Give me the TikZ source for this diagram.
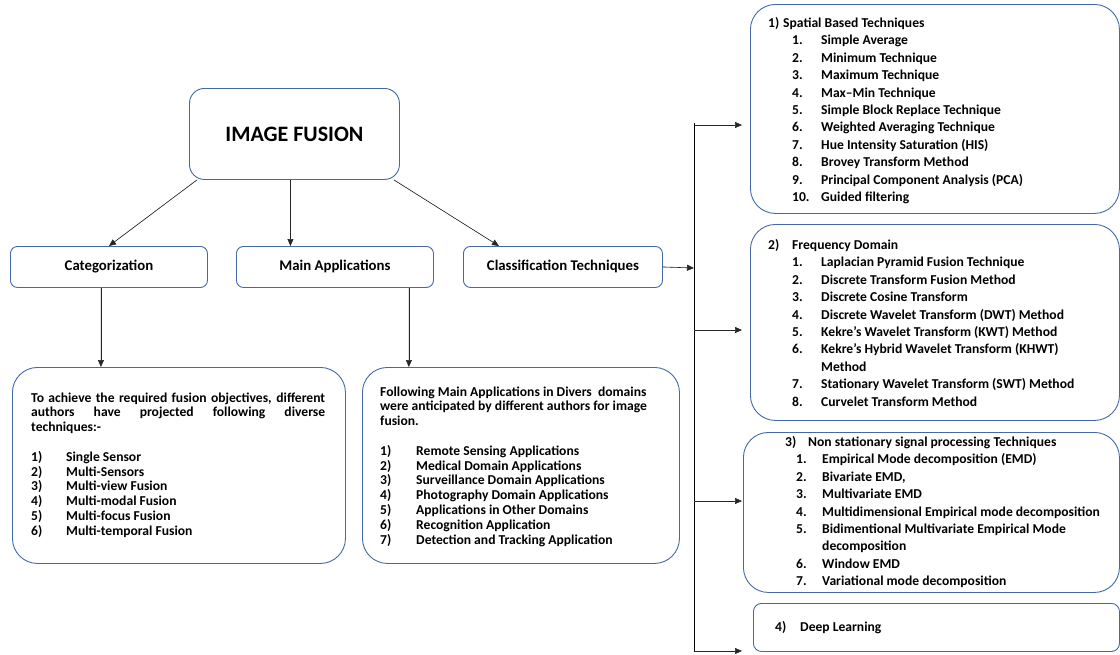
\documentclass[tikz,border=0pt]{standalone}
\usepackage{fontspec}
\setmainfont{Carlito}
\usetikzlibrary{arrows.meta}
\definecolor{boxblue}{RGB}{68,104,168}

\begin{document}
\begin{tikzpicture}[x=1pt, y=-1pt, font=\bfseries\fontsize{13.6}{17.4}\selectfont,
  box/.style={draw=boxblue, line width=0.9pt, rounded corners=#1, inner sep=0pt, anchor=north west},
  box/.default=7pt,
  head/.style={font=\bfseries\fontsize{14.8}{17.4}\selectfont},
  arr/.style={-{Triangle[length=7pt,width=6pt]}, line width=0.6pt, draw=black!85, fill=black},
  txt/.style={inner sep=0pt, anchor=base west},
  small/.style={font=\bfseries\fontsize{13.6}{14.8}\selectfont}]
\useasboundingbox (0,0) rectangle (1120,654);

\node[box=15pt, minimum width=210pt, minimum height=91pt] (fusion) at (189,88) {\fontsize{22}{26}\selectfont IMAGE FUSION};
\node[box, head, minimum width=197pt, minimum height=41pt] (categ) at (10,246) {Categorization};
\node[box, head, minimum width=197pt, minimum height=41pt] (mainapp) at (236,246) {Main Applications};
\node[box, head, minimum width=199pt, minimum height=41pt] (classif) at (463,246) {Classification Techniques};

\node[box=25pt, minimum width=333pt, minimum height=196pt] (catbox) at (12,367) {};
\node[box=25pt, minimum width=317pt, minimum height=196pt] (appbox) at (362,367) {};

\node[box=25pt, minimum width=369pt, minimum height=209pt] (spatial) at (750,4) {};
\node[box=25pt, minimum width=369pt, minimum height=196pt] (freq) at (750,224) {};
\node[box=25pt, minimum width=376pt, minimum height=160pt] (nonstat) at (743,432) {};
\node[box=8pt, minimum width=366pt, minimum height=48pt] (deep) at (753,603) {};

\node[txt, small] (cattxt) at (31,402) {\parbox[t]{294pt}{To achieve the required fusion objectives, different\linebreak
authors have projected following diverse\linebreak techniques:-\par\mbox{}\par
\makebox[35pt][l]{1)}Single Sensor\par
\makebox[35pt][l]{2)}Multi-Sensors\par
\makebox[35pt][l]{3)}Multi-view Fusion\par
\makebox[35pt][l]{4)}Multi-modal Fusion\par
\makebox[35pt][l]{5)}Multi-focus Fusion\par
\makebox[35pt][l]{6)}Multi-temporal Fusion}};

\node[txt, small] (apptxt) at (380,396) {\begin{tabular}[t]{@{}p{36pt}@{}l@{}}
\multicolumn{2}{@{}l@{}}{Following Main Applications in Divers\ \ domains}\\
\multicolumn{2}{@{}l@{}}{were anticipated by different authors for image}\\
\multicolumn{2}{@{}l@{}}{fusion.}\\
\\
1) & Remote Sensing Applications\\
2) & Medical Domain Applications\\
3) & Surveillance Domain Applications\\
4) & Photography Domain Applications\\
5) & Applications in Other Domains\\
6) & Recognition Application\\
7) & Detection and Tracking Application
\end{tabular}};

\node[txt] (spatialtxt) at (768,27.5) {\begin{tabular}[t]{@{}p{24pt}@{}p{29pt}@{}l@{}}
\multicolumn{3}{@{}l@{}}{\makebox[15pt][l]{1)}Spatial Based Techniques}\\
& 1. & Simple Average\\
& 2. & Minimum Technique\\
& 3. & Maximum Technique\\
& 4. & Max--Min Technique\\
& 5. & Simple Block Replace Technique\\
& 6. & Weighted Averaging Technique\\
& 7. & Hue Intensity Saturation (HIS)\\
& 8. & Brovey Transform Method\\
& 9. & Principal Component Analysis (PCA)\\
& 10. & Guided filtering
\end{tabular}};

\node[txt] (freqtxt) at (768,249.5) {\begin{tabular}[t]{@{}p{24pt}@{}p{29pt}@{}l@{}}
\multicolumn{3}{@{}l@{}}{\makebox[24pt][l]{2)}Frequency Domain}\\
& 1. & Laplacian Pyramid Fusion Technique\\
& 2. & Discrete Transform Fusion Method\\
& 3. & Discrete Cosine Transform\\
& 4. & Discrete Wavelet Transform (DWT) Method\\
& 5. & Kekre's Wavelet Transform (KWT) Method\\
& 6. & Kekre's Hybrid Wavelet Transform (KHWT)\\
& & Method\\
& 7. & Stationary Wavelet Transform (SWT) Method\\
& 8. & Curvelet Transform Method
\end{tabular}};

\node[txt] (nonstattxt) at (785,446.5) {\begin{tabular}[t]{@{}p{11pt}@{}p{26pt}@{}l@{}}
\multicolumn{3}{@{}l@{}}{\makebox[23pt][l]{3)}Non stationary signal processing Techniques}\\
& 1. & Empirical Mode decomposition (EMD)\\
& 2. & Bivariate EMD,\\
& 3. & Multivariate EMD\\
& 4. & Multidimensional Empirical mode decomposition\\
& 5. & Bidimentional Multivariate Empirical Mode\\
& & decomposition\\
& 6. & Window EMD\\
& 7. & Variational mode decomposition
\end{tabular}};

\node[txt] (deeptxt) at (775,631.5) {\makebox[25pt][l]{4)}Deep Learning};

\coordinate (trtop) at (694,123);
\coordinate (tr1) at (694,125);
\coordinate (trc) at (694,268);
\coordinate (tr2) at (694,330);
\coordinate (tr3) at (694,501);
\coordinate (tr4) at (694,651);

\draw[arr] ([xshift=8pt]fusion.south west) -- (categ.north);
\draw[arr] ([xshift=-4pt]fusion.south) -- ([xshift=-4pt]fusion.south |- mainapp.north);
\draw[arr] ([xshift=-6pt]fusion.south east) -- ([xshift=36pt]classif.north west);
\draw[arr] ([xshift=-8pt]categ.south) -- ([xshift=-8pt]categ.south |- catbox.north);
\draw[arr] ([xshift=-25pt]mainapp.south east) -- ([xshift=-25pt]mainapp.south east |- appbox.north);
\draw[arr] (classif.east) -- (trc);
\draw[line width=0.8pt] (trtop) -- (tr4);
\draw[arr, shorten >=8pt] (tr1) -- (tr1 -| spatial.west);
\draw[arr, shorten >=8pt] (tr2) -- (tr2 -| freq.west);
\draw[arr, shorten >=1pt] (tr3) -- (tr3 -| nonstat.west);
\draw[arr, shorten >=11pt] (tr4) -- (tr4 -| deep.west);
\end{tikzpicture}
\end{document}
